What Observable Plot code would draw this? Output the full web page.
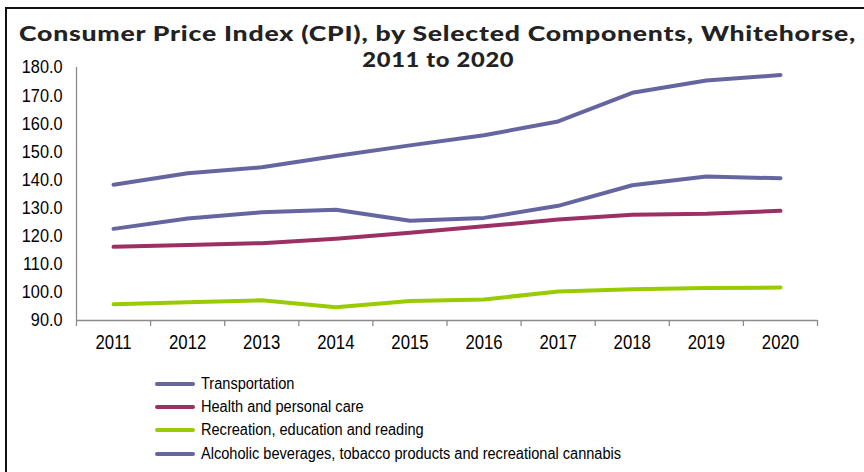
<!DOCTYPE html>
<html>
<head>
<meta charset="utf-8">
<script src="https://cdn.jsdelivr.net/npm/d3@7"></script>
<script src="https://cdn.jsdelivr.net/npm/@observablehq/plot@0.6"></script>
<style>
  html, body { margin: 0; padding: 0; background: #fff; overflow: hidden; }
  #wrap { position: relative; width: 864px; height: 472px; overflow: hidden; }
  #frame { position: absolute; left: 5px; top: 7px; width: 900px; height: 500px;
           border-top: 2px solid #111; border-left: 2px solid #111; }
  .title { position: absolute; left: 0; width: 876px; text-align: center; white-space: nowrap;
           font-family: Lato, "Open Sans", sans-serif; font-weight: 900;
           font-size: 21px; line-height: 24px; letter-spacing: 0.6px; color: #222; z-index: 2; }
  .title span { display: inline-block; transform-origin: 50% 50%; }
  #t1 { top: 20.5px; }
  #t2 { top: 47.2px; }
  #chart { position: absolute; left: 0; top: 0; }
  #legend { position: absolute; left: 155px; top: 372px;
            font-family: "Liberation Sans", Arial, sans-serif;
            font-size: 16px; color: #000; }
  .row { display: flex; align-items: center; height: 23.4px; white-space: nowrap; }
  .sw { width: 40px; height: 4px; border-radius: 2px; margin-right: 6px; flex: none; }
  .lt { display: inline-block; transform: scaleX(0.91); transform-origin: 0 50%; }
</style>
</head>
<body>
<div id="wrap">
  <div id="frame"></div>
  <div id="chart"></div>
  <div class="title" id="t1"><span>Consumer Price Index (CPI), by Selected Components, Whitehorse,</span></div>
  <div class="title" id="t2"><span>2011 to 2020</span></div>
  <div id="legend"></div>
</div>
<script>
const years = [2011, 2012, 2013, 2014, 2015, 2016, 2017, 2018, 2019, 2020];
const transportation = [122.6, 126.3, 128.5, 129.4, 125.5, 126.5, 130.8, 138.1, 141.2, 140.6];
const health = [116.2, 116.9, 117.5, 119.1, 121.2, 123.5, 125.9, 127.6, 128.0, 129.0];
const recreation = [95.8, 96.5, 97.2, 94.7, 96.9, 97.5, 100.3, 101.1, 101.6, 101.7];
const alcohol = [138.3, 142.4, 144.5, 148.5, 152.3, 155.9, 160.8, 171.0, 175.4, 177.3];
const seriesNames = [
  "Transportation",
  "Health and personal care",
  "Recreation, education and reading",
  "Alcoholic beverages, tobacco products and recreational cannabis"
];
const seriesValues = [transportation, health, recreation, alcohol];
const colors = ["#65669f", "#9c3064", "#99cc00", "#65669f"];
const yTicks = [90, 100, 110, 120, 130, 140, 150, 160, 170, 180];

const rows = [];
seriesNames.forEach((name, i) => {
  years.forEach((yr, j) => rows.push({series: name, year: yr, value: seriesValues[i][j]}));
});
const bounds = [years[0] - 0.5, ...years.map(y => y + 0.5)];

const font = '"Liberation Sans", Arial, sans-serif';
const axisGray = "#8c8c8c";
const yFmt = d3.format(".1f");

const chart = Plot.plot({
  width: 864,
  height: 362,
  marginTop: 67,
  marginBottom: 42,
  marginLeft: 76,
  marginRight: 47,
  style: {fontFamily: font, fontSize: "18.5px", color: "#000", background: "transparent"},
  x: {type: "linear", domain: [bounds[0], bounds[bounds.length - 1]]},
  y: {domain: [90, 180]},
  color: {domain: seriesNames, range: colors},
  marks: [
    Plot.ruleY([90], {stroke: axisGray, strokeWidth: 1.3}),
    Plot.ruleX([bounds[0]], {stroke: axisGray, strokeWidth: 1.3}),
    Plot.axisX(bounds, {tickSize: 6, tickFormat: () => "", stroke: axisGray, strokeWidth: 1.3, label: null}),
    Plot.axisX(years, {tickSize: 0, tickPadding: 15, tickFormat: d => String(d), fontSize: "19.5px", label: null}),
    Plot.axisY(yTicks, {tickSize: 0, tickPadding: 14, tickFormat: yFmt, label: null}),
    Plot.line(rows, {x: "year", y: "value", z: "series", stroke: "series",
      strokeWidth: 4, strokeLinecap: "round", strokeLinejoin: "round"})
  ]
});
document.getElementById("chart").appendChild(chart);

// narrow the axis label glyphs in place (reference uses a condensed face)
function squeeze(el, k, origin) {
  const t = el.getAttribute("transform");
  if (t) {
    const g = document.createElementNS("http://www.w3.org/2000/svg", "g");
    g.setAttribute("transform", t);
    el.removeAttribute("transform");
    el.parentNode.insertBefore(g, el);
    g.appendChild(el);
  }
  el.style.transformBox = "fill-box";
  el.style.transformOrigin = origin;
  el.style.transform = `scaleX(${k})`;
}
const yearLabels = new Set(years.map(String));
const yLabels = new Set(yTicks.map(yFmt));
chart.querySelectorAll("text").forEach(el => {
  const s = el.textContent.trim();
  if (yearLabels.has(s)) squeeze(el, 0.86, "50% 50%");
  else if (yLabels.has(s)) squeeze(el, 0.88, "100% 50%");
});

// widen the title lines to the reference's geometric (wide) face widths
const t1 = document.querySelector("#t1 span");
const t2 = document.querySelector("#t2 span");
t1.style.transform = `scaleX(${837 / t1.getBoundingClientRect().width})`;
t2.style.transform = `scaleX(${152 / t2.getBoundingClientRect().width})`;

const legend = document.getElementById("legend");
seriesNames.forEach((name, i) => {
  const r = document.createElement("div");
  r.className = "row";
  const s = document.createElement("div");
  s.className = "sw";
  s.style.background = colors[i];
  const t = document.createElement("span");
  t.className = "lt";
  t.textContent = name;
  r.appendChild(s); r.appendChild(t);
  legend.appendChild(r);
});
</script>
</body>
</html>
